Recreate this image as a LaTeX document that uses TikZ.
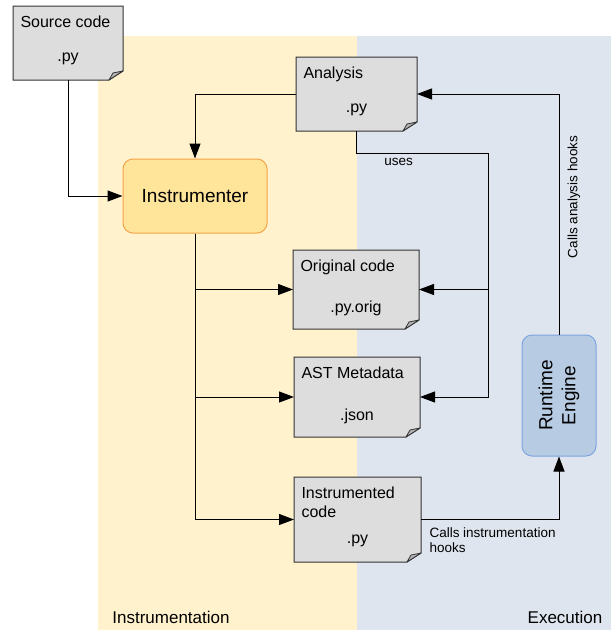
\documentclass[tikz,border=0pt]{standalone}
\usepackage{fontspec}
\setmainfont{Liberation Sans}
\usetikzlibrary{arrows.meta, positioning}

\definecolor{instrbg}{HTML}{FFF2CC}
\definecolor{execbg}{HTML}{DEE5EE}
\definecolor{docfill}{HTML}{DDDDDD}
\definecolor{foldfill}{HTML}{B5B5B5}
\definecolor{instrfill}{HTML}{FFE599}
\definecolor{instrline}{HTML}{F5A54A}
\definecolor{rtfill}{HTML}{B7CBE3}
\definecolor{rtline}{HTML}{7EA6E0}

\begin{document}
\begin{tikzpicture}[x=1pt, y=-1pt, line width=1pt, >={Triangle[length=15pt,width=11pt]}]
    \tikzstyle{doc} = [rectangle, inner sep=0pt, outer sep=0pt, append after command={\pgfextra{\let\docnd\tikzlastnode
        \filldraw[docfill, draw=black!80] (\docnd.north west) -- (\docnd.north east) -- ([yshift=9pt]\docnd.south east)
            -- ([xshift=-14pt]\docnd.south east) -- (\docnd.south west) -- cycle;
        \filldraw[foldfill, draw=black!80, line width=0.8pt, line join=round] ([yshift=9pt]\docnd.south east)
            -- ([xshift=-14pt]\docnd.south east) -- ([xshift=-10pt, yshift=7pt]\docnd.south east) -- cycle;}}]
    \tikzstyle{doctitle} = [anchor=north west, xshift=7pt, yshift=-9pt, inner sep=0pt, align=left, font=\fontsize{16}{19}\selectfont]
    \tikzstyle{docext} = [anchor=center, yshift=21pt, inner sep=0pt, font=\fontsize{16}{19}\selectfont]
    \tikzstyle{proc} = [rectangle, rounded corners=10pt, align=center, font=\fontsize{19}{23}\selectfont]
    \tikzstyle{lbl} = [inner sep=0pt, align=left, font=\fontsize{13.5}{14.5}\selectfont]

    \useasboundingbox (0,0) rectangle (611,630);
    % the two lanes
    \fill[instrbg] (98,36) rectangle (357,630);
    \fill[execbg] (357,36) rectangle (611,630);
    \node[font=\fontsize{17}{20}\selectfont] (instrlane) at (171,617) {Instrumentation};
    \node[font=\fontsize{17}{20}\selectfont] (execlane) at (565,617) {Execution};

    \node [doc, minimum width=110pt, minimum height=74pt, label={[doctitle]north west:Source code}, label={[docext]south:.py}] (src) at (68,43) {};
    \node [doc, minimum width=121pt, minimum height=74pt, label={[doctitle]north west:Analysis}, label={[docext]south:.py}] (ana) at (356.5,94) {};
    \node [proc, fill=instrfill, draw=instrline, minimum width=144pt, minimum height=74pt] (instr) at (195,196) {Instrumenter};
    \node [doc, minimum width=126pt, minimum height=79pt, label={[doctitle]north west:Original code}, label={[docext]south:.py.orig}] (orig) at (356,289.5) {};
    \node [doc, minimum width=126pt, minimum height=80pt, label={[doctitle]north west:AST Metadata}, label={[docext]south:.json}] (ast) at (357,397) {};
    \node [doc, minimum width=127pt, minimum height=85pt, label={[doctitle]north west:Instrumented\\code}, label={[docext]south:.py}] (instd) at (357.5,519.5) {};
    \node [proc, fill=rtfill, draw=rtline, minimum width=121pt, minimum height=74pt, rotate=90] (rt) at (559,395.5) {Runtime\\Engine};
    \coordinate (usesturn) at (488,153);

    \draw [->] (src) |- (instr);
    \draw [->] (ana) -| (instr);
    \draw [->] (instr) |- (orig);
    \draw [->] (instr) |- (ast);
    \draw [->] (instr) |- (instd);
    \draw (ana) |- node[lbl, pos=0.66, below=5pt] (uses) {uses} (usesturn);
    \draw [->] (usesturn) |- (orig);
    \draw [->] (usesturn) |- (ast);
    \draw [->] (instd) -| node[lbl, pos=0, anchor=north west, xshift=8pt, yshift=-8pt] (callsinstr) {Calls instrumentation\\hooks} (rt);
    \draw [->] (rt) |- (ana);
    \node [lbl, rotate=90] (callsana) at (574,197) {Calls analysis hooks};
\end{tikzpicture}
\end{document}
